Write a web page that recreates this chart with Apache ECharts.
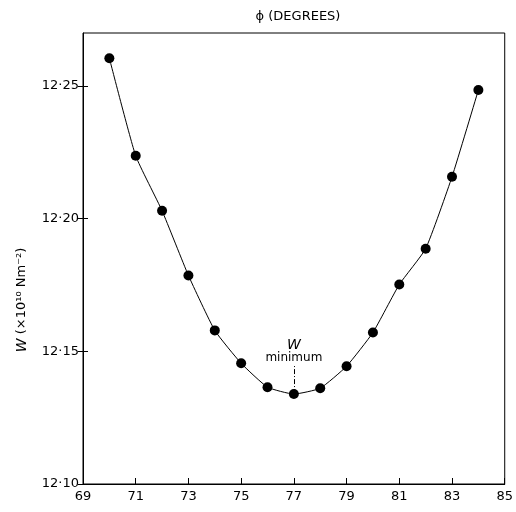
<!DOCTYPE html>
<html>
<head>
<meta charset="utf-8">
<script src="https://cdn.jsdelivr.net/npm/echarts@6/dist/echarts.min.js"></script>
<style>
html, body { margin: 0; padding: 0; background: #fff; }
#chart { width: 516px; height: 512px; }
</style>
</head>
<body>
<div id="chart"></div>
<script>
// phi (degrees) and W (x10^10 N m^-2)
var phi = [70, 71, 72, 73, 74, 75, 76, 77, 78, 79, 80, 81, 82, 83, 84];
var wVals = [12.2605, 12.2237, 12.2030, 12.1786, 12.1579, 12.1455, 12.1365, 12.1339,
             12.1361, 12.1444, 12.1571, 12.1752, 12.1887, 12.2158, 12.2485];
var xTicks = [69, 71, 73, 75, 77, 79, 81, 83, 85];
var yTicks = [12.10, 12.15, 12.20, 12.25];
var minPhi = 77;
var minW = 12.1339;

var FONT = 'DejaVu Sans';

var pts = [];
for (var i = 0; i < phi.length; i++) {
    pts.push([phi[i], wVals[i]]);
}

var yLabel = function (v) {
    return v.toFixed(2).replace('.', '·');
};

var option = {
    animation: false,
    backgroundColor: '#fff',
    title: {
        text: 'ϕ (DEGREES)',
        left: 293,
        top: 5,
        textAlign: 'center',
        textStyle: { fontFamily: FONT, fontSize: 13, fontWeight: 'normal', color: '#000' }
    },
    grid: {
        left: 83,
        right: 11,
        top: 33,
        bottom: 28,
        show: true,
        borderColor: '#000',
        borderWidth: 1
    },
    xAxis: {
        type: 'value',
        min: 69,
        max: 85,
        interval: 2,
        axisLine: { lineStyle: { color: '#000', width: 1 } },
        axisTick: { inside: true, length: 6, lineStyle: { color: '#000' } },
        axisLabel: { color: '#000', fontFamily: FONT, fontSize: 13, margin: 6 },
        splitLine: { show: false }
    },
    yAxis: [{
        type: 'value',
        min: 12.10,
        max: 12.27,
        axisLine: { lineStyle: { color: '#000', width: 1 } },
        axisTick: { length: 5, customValues: yTicks, lineStyle: { color: '#000' } },
        axisLabel: {
            customValues: yTicks,
            color: '#000', fontFamily: FONT, fontSize: 13, margin: 4,
            formatter: yLabel
        },
        splitLine: { show: false }
    }, {
        type: 'value',
        position: 'left',
        min: 12.10,
        max: 12.27,
        axisLine: { show: false },
        axisTick: { inside: true, length: 5, customValues: yTicks, lineStyle: { color: '#000' } },
        axisLabel: { show: false },
        splitLine: { show: false }
    }],
    graphic: [{
        type: 'text',
        x: 22,
        y: 300,
        rotation: Math.PI / 2,
        style: {
            text: '{w|W} (×10¹⁰ Nm⁻²)',
            fontFamily: FONT,
            fontSize: 13,
            fill: '#000',
            align: 'center',
            verticalAlign: 'middle',
            rich: {
                w: { fontStyle: 'italic', fontFamily: FONT, fontSize: 14, fill: '#000' }
            }
        }
    }],
    series: [{
        type: 'line',
        data: pts,
        smooth: 0.15,
        symbol: 'circle',
        symbolSize: 10,
        itemStyle: { color: '#000' },
        lineStyle: { color: '#000', width: 1 },
        markLine: {
            silent: true,
            symbol: 'none',
            lineStyle: { color: '#000', width: 1, type: [5, 2, 1, 2] },
            label: {
                show: true,
                position: 'end',
                distance: 2,
                formatter: '{w|W}\n{m|minimum}',
                rich: {
                    w: { fontStyle: 'italic', fontFamily: FONT, fontSize: 14, color: '#000', align: 'center' },
                    m: { fontFamily: FONT, fontSize: 12, color: '#000', align: 'center' }
                }
            },
            data: [[
                { coord: [minPhi, minW] },
                { coord: [minPhi, 12.1445] }
            ]]
        }
    }]
};

var chart = echarts.init(document.getElementById('chart'));
chart.setOption(option);
window.addEventListener('resize', function () {
    chart.resize();
});
</script>
</body>
</html>
